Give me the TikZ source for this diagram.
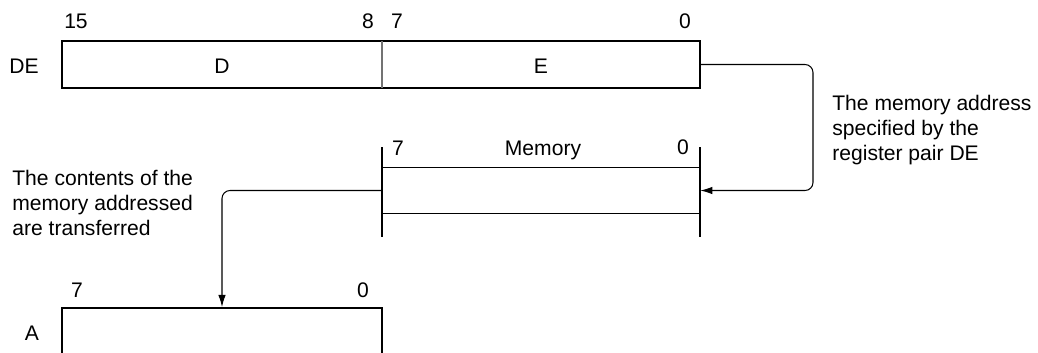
\documentclass[tikz,border=0pt]{standalone}
\usepackage{fontspec}
\setmainfont{Liberation Sans}
\usetikzlibrary{arrows.meta, positioning, calc}

\begin{document}
\begin{tikzpicture}[
  x=0.02cm, y=-0.02cm,
  font=\fontsize{12}{14.2}\selectfont,
  reg/.style={draw, line width=1.2pt, minimum height=0.94cm, inner sep=0pt},
  bitno/.style={inner sep=0pt},
  note/.style={inner sep=0pt, align=left, anchor=west},
  memwall/.style={line width=1.2pt},
  memline/.style={line width=0.6pt},
  conn/.style={line width=0.6pt, rounded corners=0.16cm,
               -{Latex[length=2.4mm, width=1.5mm]}}
]
\useasboundingbox (0,0) rectangle (1038,352);
\clip (0,0) rectangle (1038,352);

% register pair DE
\node[reg, minimum width=12.76cm] (de) at (381,64.5) {};
\draw[black!55, line width=0.6pt] (382,41) -- (382,88);
\node (lblD) at (222,66) {D};
\node (lblE) at (541,66) {E};
\node[bitno] (de15) at (76,21)  {15};
\node[bitno] (de8)  at (368,21) {8};
\node[bitno] (de7)  at (397,21) {7};
\node[bitno] (de0)  at (685,21) {0};
\node[bitno] (deName) at (24,66) {DE};

% memory
\node[inner sep=0pt, minimum width=6.36cm, minimum height=0.9cm] (mem) at (541,190.5) {};
\draw[memline] (mem.north west) -- (mem.north east);
\draw[memline] (mem.south west) -- (mem.south east);
\draw[memwall] (382,147) -- (382,237);
\draw[memwall] (700,147) -- (700,237);
\node[bitno] (mem7) at (398,148) {7};
\node[bitno] (memName) at (543,150) {Memory};
\node[bitno] (mem0) at (683,147) {0};

% register A
\node[reg, minimum width=6.4cm] (regA) at (222,331.5) {};
\node[bitno] (a7) at (77,290) {7};
\node[bitno] (a0) at (363,290) {0};
\node[bitno] (aName) at (32,333) {A};

% notes
\node[note] (noteAddr) at (832,130) {The memory address\\specified by the\\register pair DE};
\node[note] (noteMove) at (12,203) {The contents of the\\memory addressed\\are transferred};

% connectors
\coordinate (turnR) at (813,130);
\draw[conn] (de.east) -| (turnR) |- (mem.east);
\draw[conn] (mem.west) -| (regA.north);

\end{tikzpicture}
\end{document}
